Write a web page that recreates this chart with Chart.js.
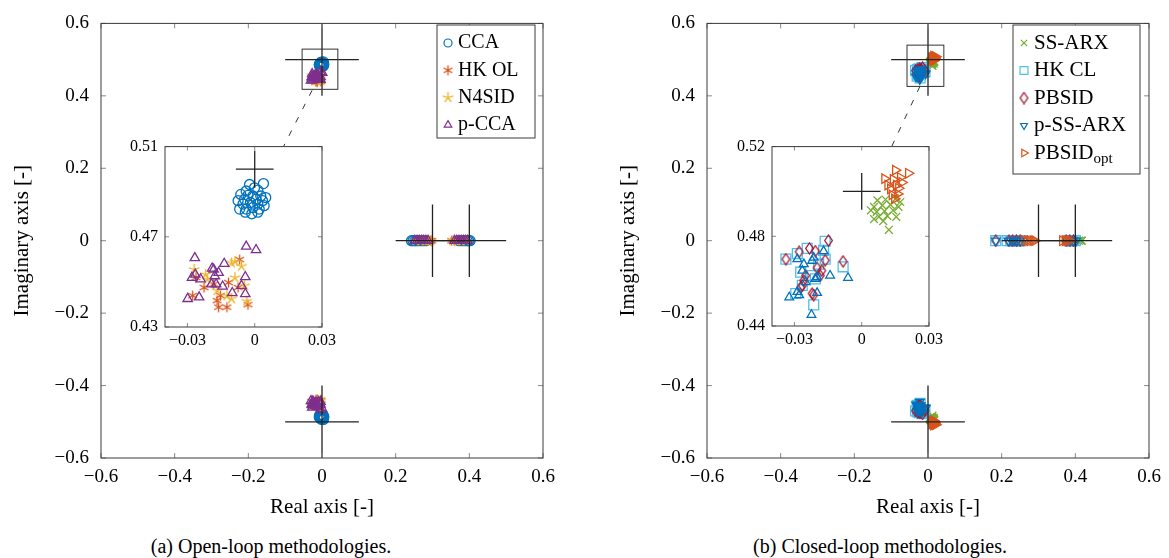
<!DOCTYPE html>
<html>
<head>
<meta charset="utf-8">
<script src="https://cdn.jsdelivr.net/npm/chart.js@4.4.1/dist/chart.umd.min.js"></script>
<style>
  body { margin: 0; background: #fff; }
  #wrap { position: relative; width: 1169px; height: 558px; overflow: hidden; font-family: "Liberation Serif", "Times New Roman", serif; }
  canvas { position: absolute; }
  .cap { position: absolute; top: 534px; width: 400px; text-align: center; font-size: 20px; line-height: 24px; color: #000; }
</style>
</head>
<body>
<div id="wrap">
  <canvas id="mainA" width="585" height="525" style="left:0;top:0;width:585px;height:525px"></canvas>
  <canvas id="mainB" width="584" height="525" style="left:585px;top:0;width:584px;height:525px"></canvas>
  <canvas id="insetA" width="225" height="230" style="left:115px;top:130px;width:225px;height:230px"></canvas>
  <canvas id="insetB" width="225" height="230" style="left:722px;top:130px;width:225px;height:230px"></canvas>
  <div class="cap" style="left:71px">(a) Open-loop methodologies.</div>
  <div class="cap" style="left:680px">(b) Closed-loop methodologies.</div>
</div>
<script>
const SERIF = '"Liberation Serif", "Times New Roman", serif';

// upper complex pole estimates [real, imag]
const ccaPts = [[-0.0023,0.4932],[0.0039,0.4936],[-0.0001,0.4917],[-0.0038,0.4903],[0.0014,0.4907],
  [-0.0062,0.4888],[-0.0030,0.4884],[-0.0008,0.4881],[0.0027,0.4881],[0.0049,0.4874],[-0.0074,0.4860],
  [-0.0045,0.4867],[0.0006,0.4867],[0.0035,0.4860],[-0.0052,0.4845],[-0.0019,0.4852],[0.0014,0.4845],
  [0.0042,0.4838],[-0.0067,0.4823],[-0.0038,0.4823],[-0.0008,0.4830],[0.0020,0.4823],[-0.0042,0.4809],
  [-0.0013,0.4802],[0.0014,0.4809]];
const hkOlPts = [[-0.0262,0.4519],[-0.0226,0.4475],[-0.0183,0.4490],[-0.0117,0.4497],[-0.0067,0.4599],
  [-0.0074,0.4475],[-0.0153,0.4439],[-0.0168,0.4417],[-0.0161,0.4388],[-0.0030,0.4399],[-0.0277,0.4439],
  [-0.0124,0.4388]];
const n4sidPts = [[-0.0270,0.4555],[-0.0219,0.4533],[-0.0212,0.4512],[-0.0088,0.4519],[-0.0103,0.4584],
  [-0.0059,0.4570],[-0.0045,0.4483],[-0.0168,0.4461],[-0.0124,0.4439],[-0.0103,0.4425],[-0.0088,0.4591],
  [-0.0035,0.4415]];
const pccaPts = [[-0.0038,0.4657],[0.0006,0.4642],[-0.0267,0.4606],[-0.0136,0.4581],[-0.0183,0.4555],
  [-0.0161,0.4541],[-0.0280,0.4519],[-0.0241,0.4512],[-0.0042,0.4522],[-0.0178,0.4526],[-0.0193,0.4490],
  [-0.0172,0.4490],[-0.0143,0.4480],[-0.0059,0.4483],[-0.0100,0.4451],[-0.0042,0.4447],[-0.0299,0.4425],
  [-0.0248,0.4432],[-0.0265,0.4533],[-0.0190,0.4560]];

const ssArxPts = [[0.0070,0.4960],[0.0106,0.4964],[0.0150,0.4967],[0.0055,0.4931],[0.0092,0.4938],
  [0.0128,0.4941],[0.0164,0.4931],[0.0067,0.4909],[0.0102,0.4912],[0.0140,0.4916],[0.0077,0.4887],
  [0.0114,0.4891],[0.0154,0.4887],[0.0055,0.4877],[0.0096,0.4868],[0.0121,0.4829],[0.0041,0.4916],
  [0.0172,0.4953]];
const hkClPts = [[-0.0338,0.4698],[-0.0287,0.4723],[-0.0243,0.4746],[-0.0163,0.4778],[-0.0170,0.4737],
  [-0.0272,0.4640],[-0.0221,0.4625],[-0.0083,0.4664],[-0.0265,0.4581],[-0.0207,0.4610],[-0.0214,0.4494],
  [-0.0294,0.4545],[-0.0163,0.4698],[-0.0192,0.4676]];
const pbsidPts = [[-0.0338,0.4698],[-0.0279,0.4731],[-0.0233,0.4746],[-0.0148,0.4781],[-0.0207,0.4734],
  [-0.0163,0.4693],[-0.0083,0.4688],[-0.0199,0.4659],[-0.0178,0.4647],[-0.0250,0.4625],[-0.0258,0.4603],
  [-0.0265,0.4581],[-0.0272,0.4571],[-0.0221,0.4545],[-0.0214,0.4538],[-0.0185,0.4625]];
const pssArxPts = [[-0.0287,0.4698],[-0.0258,0.4676],[-0.0265,0.4647],[-0.0221,0.4691],[-0.0199,0.4618],
  [-0.0250,0.4596],[-0.0207,0.4610],[-0.0141,0.4625],[-0.0061,0.4615],[-0.0287,0.4552],[-0.0323,0.4528],
  [-0.0199,0.4548],[-0.0224,0.4450],[-0.0279,0.4538],[-0.0170,0.4734],[-0.0214,0.4705]];
const pbsidOptPts = [[0.0150,0.5095],[0.0208,0.5081],[0.0102,0.5057],[0.0140,0.5054],[0.0172,0.5062],
  [0.0116,0.5028],[0.0154,0.5028],[0.0179,0.5040],[0.0128,0.5011],[0.0164,0.5014],[0.0135,0.4985],
  [0.0160,0.4989],[0.0146,0.4967]];

// real pole estimates
const ccaReal = [0.243, 0.247, 0.252, 0.256, 0.262, 0.268, 0.275, 0.282, 0.372, 0.380, 0.388, 0.394, 0.398, 0.402];
const hkOlReal = [0.260, 0.272, 0.285, 0.295, 0.298, 0.352, 0.360, 0.372, 0.385];
const n4sidReal = [0.255, 0.268, 0.280, 0.290, 0.296, 0.355, 0.365, 0.378, 0.390];
const pccaReal = [0.252, 0.258, 0.264, 0.270, 0.276, 0.282, 0.288, 0.360, 0.366, 0.372, 0.378, 0.384, 0.390, 0.395];
const ssArxReal = [0.405, 0.410, 0.415, 0.418];
const hkClReal = [0.184, 0.215, 0.225, 0.235, 0.245, 0.255, 0.380, 0.390, 0.400];
const pbsidReal = [0.184, 0.220, 0.230, 0.240, 0.250, 0.375, 0.385, 0.395];
const pssArxReal = [0.184, 0.218, 0.226, 0.234, 0.242, 0.250, 0.258, 0.378, 0.386, 0.394, 0.402];
const pbsidOptReal = [0.262, 0.270, 0.278, 0.285, 0.290, 0.365, 0.372, 0.380, 0.385];

// true poles (crosses)
const truePoles = [[0, 0.5], [0.3, 0], [0.4, 0], [0, -0.5]];
const insetPole = [[0, 0.5]];

const mainTicks = [-0.6, -0.4, -0.2, 0, 0.2, 0.4, 0.6];
const insetXTicks = [-0.03, 0, 0.03];
const insetAYTicks = [0.43, 0.47, 0.51];
const insetBYTicks = [0.44, 0.48, 0.52];

// ---------- markers ----------
function markerCanvas(kind, color) {
  const c = document.createElement('canvas');
  c.width = 13; c.height = 13;
  const g = c.getContext('2d');
  const cx = 6.5, cy = 6.5;
  g.strokeStyle = color;
  g.lineWidth = 1.3;
  g.beginPath();
  if (kind === 'asterisk') {
    for (let k = 0; k < 3; k++) {
      const a = Math.PI / 2 + k * Math.PI / 3;
      g.moveTo(cx + 5 * Math.cos(a), cy - 5 * Math.sin(a));
      g.lineTo(cx - 5 * Math.cos(a), cy + 5 * Math.sin(a));
    }
  } else if (kind === 'star') {
    for (let k = 0; k < 5; k++) {
      const a = Math.PI / 2 + k * 2 * Math.PI / 5;
      g.moveTo(cx, cy);
      g.lineTo(cx + 5.5 * Math.cos(a), cy - 5.5 * Math.sin(a));
    }
  } else if (kind === 'diamond') {
    g.moveTo(cx, cy - 5.5); g.lineTo(cx + 3.8, cy); g.lineTo(cx, cy + 5.5); g.lineTo(cx - 3.8, cy);
    g.closePath();
  }
  g.stroke();
  return c;
}

const openSeries = [
  { label: 'CCA', pts: ccaPts, real: ccaReal, color: '#0072BD', style: 'circle', radius: 5 },
  { label: 'HK OL', pts: hkOlPts, real: hkOlReal, color: '#D95319', style: markerCanvas('asterisk', '#D95319'), radius: 5 },
  { label: 'N4SID', pts: n4sidPts, real: n4sidReal, color: '#EDB120', style: markerCanvas('star', '#EDB120'), radius: 5 },
  { label: 'p-CCA', pts: pccaPts, real: pccaReal, color: '#7E2F8E', style: 'triangle', radius: 5.4 },
];
const closedSeries = [
  { label: 'SS-ARX', pts: ssArxPts, real: ssArxReal, color: '#77AC30', style: 'crossRot', radius: 5.5 },
  { label: 'HK CL', pts: hkClPts, real: hkClReal, color: '#4DBEEE', style: 'rect', radius: 7 },
  { label: 'PBSID', pts: pbsidPts, real: pbsidReal, color: '#A2142F', style: markerCanvas('diamond', '#A2142F'), radius: 5 },
  { label: 'p-SS-ARX', pts: pssArxPts, real: pssArxReal, color: '#0072BD', style: 'triangle', radius: 5, rotation: 180, insetRotation: 0 },
  { label: 'PBSID', sub: 'opt', pts: pbsidOptPts, real: pbsidOptReal, color: '#D95319', style: 'triangle', radius: 5.5, rotation: 90 },
];

const toXY = pts => pts.map(p => ({ x: p[0], y: p[1] }));
const conj = pts => pts.map(p => ({ x: p[0], y: -p[1] }));
const onAxis = xs => xs.map(v => ({ x: v, y: 0 }));

function pointSet(s, data, i, inset) {
  const rot = inset && s.insetRotation !== undefined ? s.insetRotation : (s.rotation || 0);
  return {
    label: s.label, sub: s.sub, legendStyle: s.style, legendRotation: s.rotation || 0,
    data, showLine: false,
    pointStyle: s.style, pointRadius: s.radius, pointHoverRadius: s.radius, pointRotation: rot,
    pointBorderColor: s.color, borderColor: s.color, pointBackgroundColor: 'rgba(0,0,0,0)',
    pointBorderWidth: 1.3, order: 20 - i
  };
}

function crossSets(centers, hx, hy) {
  const sets = [];
  const seg = data => ({ data, showLine: true, pointRadius: 0, borderColor: '#222', borderWidth: 1.3, order: 0 });
  centers.forEach(c => {
    sets.push(seg([{ x: c[0] - hx, y: c[1] }, { x: c[0] + hx, y: c[1] }]));
    sets.push(seg([{ x: c[0], y: c[1] - hy }, { x: c[0], y: c[1] + hy }]));
  });
  return sets;
}

const fmt = v => (Math.abs(v) < 1e-9 ? '0' : String(+v.toFixed(2))).replace('-', '\u2212');

function axis(min, max, ticks, size, pad, fixed, title) {
  return {
    type: 'linear', min, max,
    afterBuildTicks: s => { s.ticks = ticks.map(v => ({ value: v })); },
    afterFit: s => { if (s.isHorizontal()) s.height = fixed; else s.width = fixed; },
    grid: { display: false, drawTicks: false },
    border: { display: false },
    ticks: { font: { family: SERIF, size }, color: '#000', padding: pad, callback: v => fmt(v), maxRotation: 0, autoSkip: false },
    title: title || { display: false }
  };
}

// frame, inward ticks, zoom box, connector and legend
const frameDeco = {
  id: 'frameDeco',
  beforeDatasetsDraw(chart, args, o) {
    if (!o.whiteBg) return;
    const a = chart.chartArea, ctx = chart.ctx;
    ctx.save(); ctx.fillStyle = '#fff'; ctx.fillRect(a.left, a.top, a.width, a.height); ctx.restore();
  },
  afterDatasetsDraw(chart, args, o) {
    const { ctx, chartArea: a } = chart;
    const x = chart.scales.x, y = chart.scales.y;
    ctx.save();
    ctx.strokeStyle = '#8a8a8a'; ctx.lineWidth = 1;
    ctx.beginPath();
    x.ticks.forEach(t => {
      const px = x.getPixelForValue(t.value);
      ctx.moveTo(px, a.bottom); ctx.lineTo(px, a.bottom - o.tick);
      ctx.moveTo(px, a.top); ctx.lineTo(px, a.top + o.tick);
    });
    y.ticks.forEach(t => {
      const py = y.getPixelForValue(t.value);
      ctx.moveTo(a.left, py); ctx.lineTo(a.left + o.tick, py);
      ctx.moveTo(a.right, py); ctx.lineTo(a.right - o.tick, py);
    });
    ctx.stroke();
    if (o.zoomBox) {
      const z = o.zoomBox;
      const x0 = x.getPixelForValue(z[0]), x1 = x.getPixelForValue(z[1]);
      const y0 = y.getPixelForValue(z[2]), y1 = y.getPixelForValue(z[3]);
      ctx.strokeStyle = '#333';
      ctx.strokeRect(x0, y1, x1 - x0, y0 - y1);
    }
    if (o.connector) {
      const c = o.connector;
      ctx.strokeStyle = '#333'; ctx.setLineDash([6, 9]);
      ctx.beginPath();
      ctx.moveTo(x.getPixelForValue(c[0]), y.getPixelForValue(c[1]));
      ctx.lineTo(x.getPixelForValue(c[2]), y.getPixelForValue(c[3]));
      ctx.stroke();
      ctx.setLineDash([]);
    }
    ctx.strokeStyle = '#3a3a3a'; ctx.lineWidth = 1;
    ctx.strokeRect(a.left, a.top, a.width, a.height);
    if (o.legend) {
      const L = o.legend;
      ctx.fillStyle = '#fff';
      ctx.fillRect(L.x, L.y, L.w, L.h);
      ctx.strokeStyle = '#3a3a3a';
      ctx.strokeRect(L.x, L.y, L.w, L.h);
      const items = chart.data.datasets.filter(d => d.label);
      items.forEach((d, k) => {
        const cy = L.first + k * L.row;
        ctx.save();
        ctx.strokeStyle = d.pointBorderColor; ctx.fillStyle = 'rgba(0,0,0,0)'; ctx.lineWidth = 1.2;
        Chart.helpers.drawPoint(ctx, { pointStyle: d.legendStyle, rotation: d.legendRotation, radius: d.pointRadius * 0.8, borderWidth: 1.2 }, L.x + 11, cy);
        ctx.restore();
        ctx.fillStyle = '#000';
        ctx.textBaseline = 'middle';
        ctx.font = L.size + 'px ' + SERIF;
        ctx.fillText(d.label, L.x + 21, cy);
        if (d.sub) {
          const w = ctx.measureText(d.label).width;
          ctx.font = Math.round(L.size * 0.72) + 'px ' + SERIF;
          ctx.fillText(d.sub, L.x + 21 + w, cy + L.size * 0.3);
        }
      });
    }
    ctx.restore();
  }
};

function mainChart(id, series, yW, padRight, yTitlePad, deco) {
  const datasets = series.map((s, i) => pointSet(s, toXY(s.pts).concat(conj(s.pts), onAxis(s.real)), i, false));
  return new Chart(document.getElementById(id), {
    type: 'scatter',
    data: { datasets: datasets.concat(crossSets(truePoles, 0.1, 0.1)) },
    options: {
      responsive: false, animation: false, events: [],
      layout: { padding: { left: 0, right: padRight, top: 17, bottom: 0 } },
      scales: {
        x: axis(-0.6, 0.6, mainTicks, 19, 8, 67,
          { display: true, text: 'Real axis [-]', color: '#000', font: { family: SERIF, size: 21, lineHeight: 1 }, padding: { top: 0, bottom: 7.5 } }),
        y: axis(-0.6, 0.6, mainTicks, 19, 12, yW,
          { display: true, text: 'Imaginary axis [-]', color: '#000', font: { family: SERIF, size: 21, lineHeight: 1 }, padding: { top: yTitlePad, bottom: 0 } })
      },
      plugins: { legend: { display: false }, tooltip: { enabled: false }, frameDeco: deco }
    },
    plugins: [frameDeco]
  });
}

function insetChart(id, series, yMin, yMax, yTicks, padRight, xH) {
  const datasets = series.map((s, i) => pointSet(s, toXY(s.pts), i, true));
  return new Chart(document.getElementById(id), {
    type: 'scatter',
    data: { datasets: datasets.concat(crossSets(insetPole, 0.0084, 0.0082)) },
    options: {
      responsive: false, animation: false, events: [],
      layout: { padding: { left: 0, right: padRight, top: 13, bottom: 0 } },
      scales: {
        x: axis(-0.04, 0.03, insetXTicks, 16, 4, xH),
        y: axis(yMin, yMax, yTicks, 16, 7, 50)
      },
      plugins: { legend: { display: false }, tooltip: { enabled: false }, frameDeco: { tick: 4, whiteBg: true } }
    },
    plugins: [frameDeco]
  });
}

mainChart('mainA', openSeries, 101, 42, 11.5, {
  tick: 5,
  zoomBox: [-0.054, 0.043, 0.418, 0.529],
  connector: [-0.027, 0.415, -0.106, 0.257],
  legend: { x: 437, y: 25, w: 98, h: 113, first: 43, row: 27.3, size: 20 }
});
mainChart('mainB', closedSeries, 122, 20, 32.5, {
  tick: 5,
  zoomBox: [-0.057, 0.043, 0.426, 0.540],
  connector: [-0.022, 0.426, -0.100, 0.257],
  legend: { x: 428, y: 25, w: 127, h: 149, first: 43, row: 27.5, size: 21 }
});
insetChart('insetA', openSeries, 0.43, 0.51, insetAYTicks, 14, 33);
insetChart('insetB', closedSeries, 0.44, 0.52, insetBYTicks, 16, 34);
</script>
</body>
</html>
